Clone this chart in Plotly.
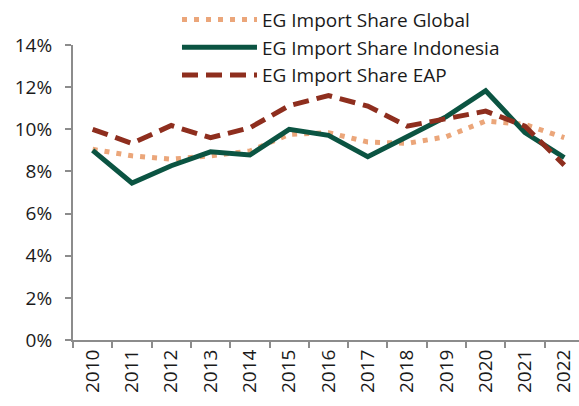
import plotly.graph_objects as go

years = [str(y) for y in range(2010, 2023)]
share_global = [9.05, 8.74, 8.58, 8.74, 8.97, 9.76, 9.84, 9.4, 9.33, 9.65, 10.39, 10.23, 9.6]
share_indonesia = [9.0, 7.45, 8.27, 8.93, 8.78, 10.0, 9.71, 8.7, 9.65, 10.6, 11.83, 9.84, 8.65]
share_eap = [10.0, 9.33, 10.18, 9.6, 10.07, 11.12, 11.6, 11.1, 10.15, 10.5, 10.86, 10.15, 8.3]

FONT = "Open Sans"
AXIS_GREY = "#8c8c8c"

fig = go.Figure()
fig.add_trace(go.Scatter(x=years, y=share_global, mode="lines", name="EG Import Share Global",
                         line=dict(color="#EBA67A", width=5, dash="5px,7px")))
fig.add_trace(go.Scatter(x=years, y=share_indonesia, mode="lines", name="EG Import Share Indonesia",
                         line=dict(color="#0B5442", width=5)))
fig.add_trace(go.Scatter(x=years, y=share_eap, mode="lines", name="EG Import Share EAP",
                         line=dict(color="#8E2E1E", width=5, dash="16px,8px")))

fig.update_layout(
    width=579, height=406,
    margin=dict(l=73, r=0, t=45, b=66),
    paper_bgcolor="white", plot_bgcolor="white",
    font=dict(family=FONT, size=19, color="#1a1a1a"),
    showlegend=True,
    legend=dict(x=0.2055, y=1.15, xanchor="left", yanchor="top",
                bgcolor="rgba(0,0,0,0)", font=dict(size=19),
                itemwidth=75, tracegroupgap=0),
)
fig.update_xaxes(type="category", range=[-0.5, 12.375], tickson="boundaries",
                 tickangle=-90, ticks="outside", ticklen=6, tickwidth=2, tickcolor=AXIS_GREY,
                 showline=True, linecolor=AXIS_GREY, linewidth=2, showgrid=False,
                 automargin=False, tickfont=dict(size=19))
fig.update_yaxes(range=[0, 14], dtick=2, ticksuffix="%", ticks="outside", ticklen=6,
                 tickwidth=2, tickcolor=AXIS_GREY, showline=True, linecolor=AXIS_GREY,
                 linewidth=2, showgrid=False, zeroline=False, automargin=False,
                 ticklabelstandoff=9, tickfont=dict(size=19))

# drop the browser's default 8px body margin so the figure sits at the window corner
fig.write_html("out.html", config={"displayModeBar": False},
               post_script="document.body.style.margin='0';")
